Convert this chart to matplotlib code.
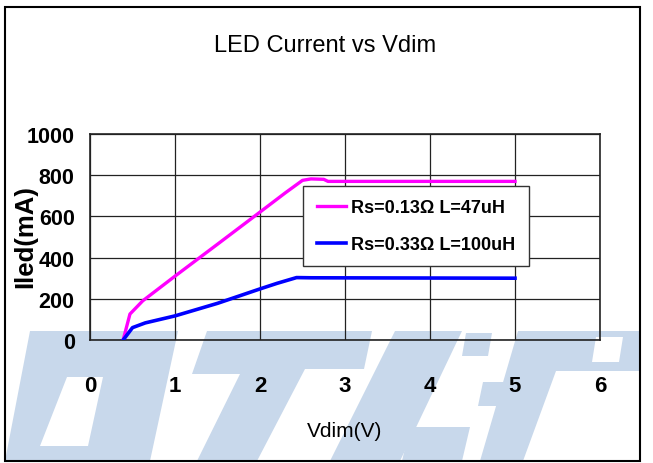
import matplotlib.pyplot as plt
from matplotlib.patches import Polygon, Rectangle

# данные: ток светодиода от напряжения Vdim
vdim_a = [0.39, 0.47, 0.62, 1.0, 1.5, 2.0, 2.3, 2.5, 2.6, 2.75, 2.8, 3.5, 4.0, 5.0]
iled_a = [0, 126, 190, 310, 465, 621, 715, 775, 782, 780, 770, 770, 770, 770]
vdim_b = [0.39, 0.5, 0.65, 1.0, 1.5, 2.0, 2.2, 2.43, 2.6, 5.0]
iled_b = [0, 60, 83, 117, 178, 248, 275, 303, 302, 300]
labels = ['Rs=0.13Ω L=47uH', 'Rs=0.33Ω L=100uH']
x_ticks = [0, 1, 2, 3, 4, 5, 6]
y_ticks = [0, 200, 400, 600, 800, 1000]

W, H = 653, 464
plt.rcParams['font.family'] = ['Liberation Sans', 'DejaVu Sans']

fig = plt.figure(figsize=(W / 100, H / 100), dpi=100)


def px(pts):
    # пиксели картинки -> доли фигуры
    return [(x / W, 1 - y / H) for x, y in pts]


# водяной знак внизу (светло-голубые буквы)
wm = '#c8d8eb'
shapes = [
    [(30, 332), (178, 332), (150, 462), (5, 462)],
    [(207, 332), (372, 332), (364, 370), (305, 370), (257, 462), (197, 462), (240, 375), (192, 375)],
    [(395, 332), (462, 332), (400, 462), (330, 462)],
    [(466, 334), (492, 334), (488, 357), (462, 357)],
    [(483, 383), (523, 383), (518, 407), (478, 407)],
    [(410, 428), (470, 428), (462, 462), (402, 462)],
    [(518, 332), (640, 332), (640, 372), (556, 372), (523, 462), (480, 462)],
]
for s in shapes:
    fig.patches.append(Polygon(px(s), closed=True, transform=fig.transFigure,
                               facecolor=wm, edgecolor='none', zorder=-2))
holes = [
    [(67, 378), (103, 378), (88, 447), (40, 447)],
    [(596, 338), (623, 338), (619, 363), (592, 363)],
]
for s in holes:
    fig.patches.append(Polygon(px(s), closed=True, transform=fig.transFigure,
                               facecolor='white', edgecolor='none', zorder=-1))

# рамка вокруг всей картинки
fig.patches.append(Rectangle((5 / W, 1 - 462 / H), 635 / W, 454 / H, transform=fig.transFigure,
                             fill=False, edgecolor='black', linewidth=1.5, zorder=-0.5))

ax = fig.add_axes([90 / W, 1 - 341 / H, 510 / W, 206 / H])
ax.set_facecolor('none')

ax.plot(vdim_a, iled_a, color='#ff00ff', linewidth=2.4, label=labels[0], zorder=3)
ax.plot(vdim_b, iled_b, color='#0000ff', linewidth=2.6, label=labels[1], zorder=3)

ax.set_xlim(0, 6)
ax.set_ylim(0, 1000)
ax.set_xticks(x_ticks)
ax.set_yticks(y_ticks)
ax.grid(True, color='#222222', linewidth=0.9)
ax.set_axisbelow(True)
for sp in ax.spines.values():
    sp.set_color('#222222')
    sp.set_linewidth(1.2)

ax.tick_params(axis='x', length=0, pad=25, labelsize=16)
ax.tick_params(axis='y', length=0, pad=11, labelsize=15.5)
for t in ax.get_xticklabels() + ax.get_yticklabels():
    t.set_fontweight('bold')

fig.text(325 / W, 1 - 46 / H, 'LED Current vs Vdim', ha='center', va='center', fontsize=17)
fig.text(345 / W, 1 - 432 / H, 'Vdim(V)', ha='center', va='center', fontsize=15)
fig.text(25 / W, 1 - 237 / H, 'Iled(mA)', ha='center', va='center', rotation=90,
         fontsize=18.5, fontweight='bold')

leg = ax.legend(loc='upper left', bbox_to_anchor=(0.418, 0.75),
                prop={'weight': 'bold', 'size': 13}, frameon=True, fancybox=False,
                handlelength=1.6, handletextpad=0.3, borderpad=0.75, labelspacing=1.1,
                borderaxespad=0)
leg.get_frame().set_edgecolor('#333333')
leg.get_frame().set_linewidth(1.0)
leg.get_frame().set_alpha(1)

fig.savefig('out.png', dpi=100)
